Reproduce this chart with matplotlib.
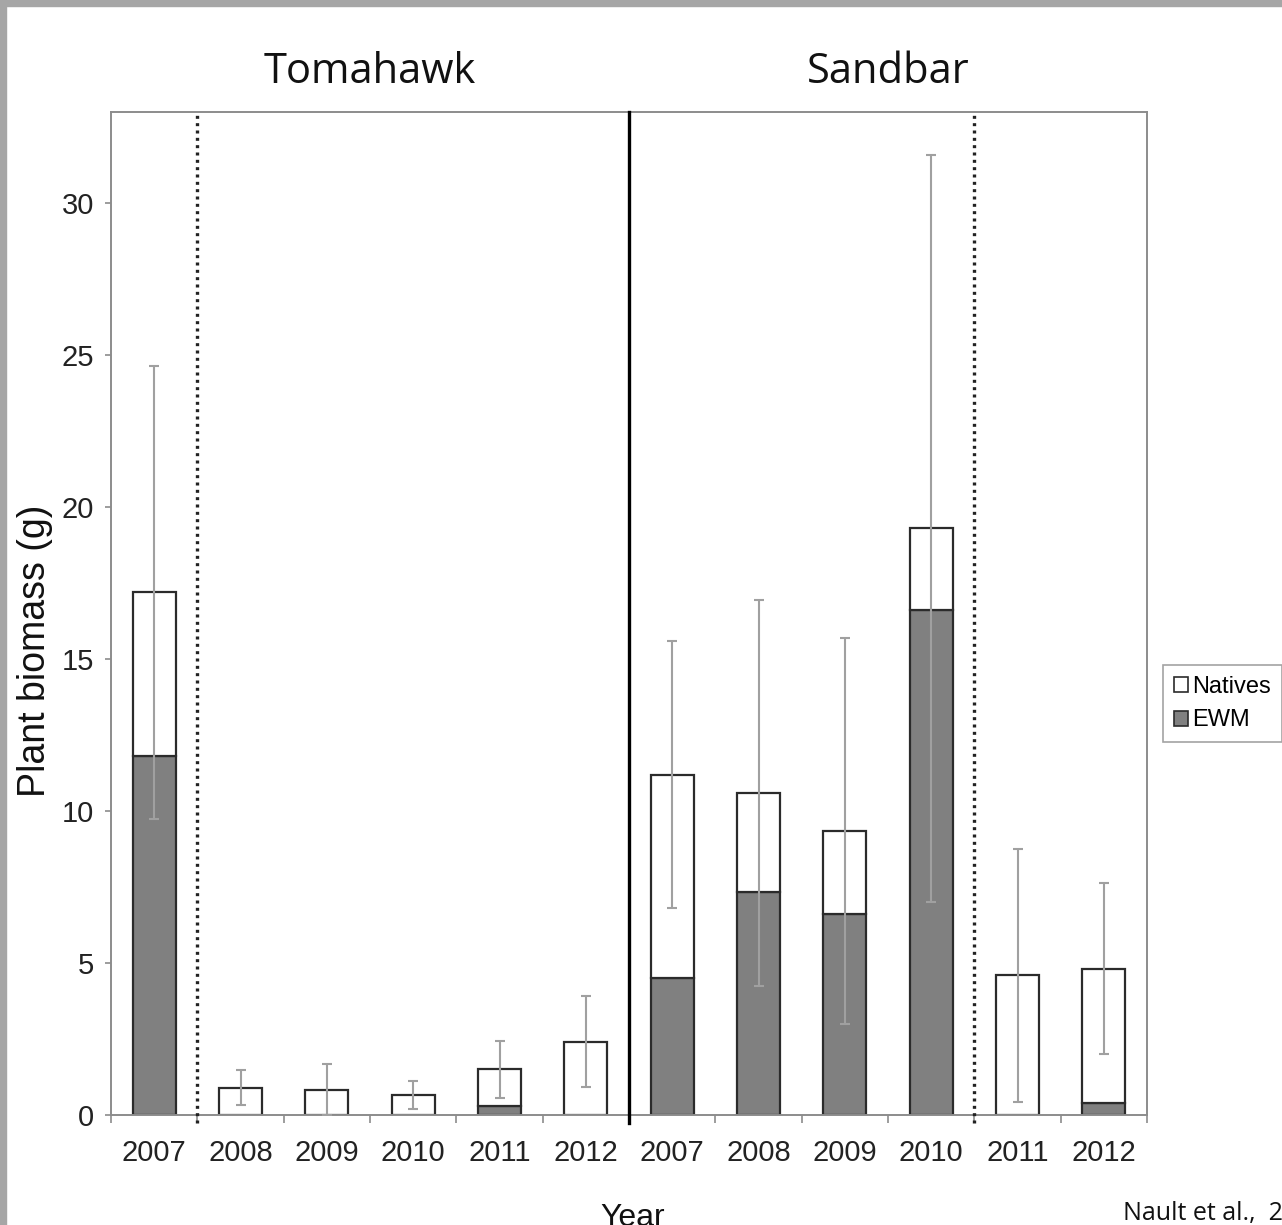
import numpy as np
import matplotlib
matplotlib.use("Agg")
import matplotlib.pyplot as plt
from matplotlib import font_manager
from matplotlib.patches import Rectangle, Patch
from matplotlib.transforms import blended_transform_factory

# data (g of plant biomass per sample)
years = ["2007", "2008", "2009", "2010", "2011", "2012"]
lakes = ["Tomahawk", "Sandbar"]

ewm_tomahawk = [11.8, 0.0, 0.0, 0.0, 0.3, 0.0]
natives_tomahawk = [5.4, 0.9, 0.82, 0.66, 1.2, 2.41]
err_tomahawk = [7.45, 0.57, 0.86, 0.46, 0.94, 1.5]

ewm_sandbar = [4.5, 7.35, 6.6, 16.6, 0.0, 0.38]
natives_sandbar = [6.7, 3.25, 2.76, 2.7, 4.6, 4.44]
err_sandbar = [4.4, 6.35, 6.35, 12.3, 4.16, 2.8]

# vertical separators: solid between lakes, dotted where treatment changed
lake_split = 5.5
treatment_lines = [0.5, 9.5]

citation = "Nault et al.,  2014"

installed = {f.name for f in font_manager.fontManager.ttflist}
NARROW = "Liberation Sans Narrow" if "Liberation Sans Narrow" in installed else "Liberation Sans"
TITLE_FONT = "Open Sans"

W, H = 1282, 1225
fig = plt.figure(figsize=(W / 100, H / 100), dpi=100)
fig.patch.set_facecolor("white")

# gray frame at top and left of the screenshot
fig.patches.append(Rectangle((0, 1 - 6 / H), 1, 6 / H, transform=fig.transFigure,
                             color="#a6a6a6", zorder=0))
fig.patches.append(Rectangle((0, 0), 6 / W, 1, transform=fig.transFigure,
                             color="#a6a6a6", zorder=0))

ax = fig.add_axes([111 / W, (H - 1115) / H, (1147 - 111) / W, (1115 - 112) / H])

ewm = np.array(ewm_tomahawk + ewm_sandbar)
natives = np.array(natives_tomahawk + natives_sandbar)
err = np.array(err_tomahawk + err_sandbar)
total = ewm + natives
x = np.arange(len(ewm))

edge = "#2b2b2b"
ax.bar(x, ewm, width=0.5, color="#808080", edgecolor=edge, linewidth=1.6, zorder=2)
ax.bar(x, natives, bottom=ewm, width=0.5, color="white", edgecolor=edge, linewidth=1.6, zorder=2)

lower = np.minimum(err, total)
ax.errorbar(x, total, yerr=[lower, err], fmt="none", ecolor="#a0a0a0",
            elinewidth=1.5, capsize=3.5, capthick=1.5, zorder=3)

ax.axvline(lake_split, ymin=-0.008, color="black", linewidth=2.4, clip_on=False, zorder=4)
for xv in treatment_lines:
    ax.axvline(xv, ymin=-0.008, color="#222222", linewidth=2.4, linestyle=(0, (0.9, 1.3)),
               clip_on=False, zorder=4)

ax.set_xlim(-0.5, len(x) - 0.5)
ax.set_ylim(0, 33)

for s in ax.spines.values():
    s.set_color("#8c8c8c")
    s.set_linewidth(1.4)

ax.set_yticks(np.arange(0, 31, 5))
ax.tick_params(axis="y", direction="out", length=4, width=1.2, color="#8c8c8c",
               pad=8, labelsize=21, labelcolor="#222222")
for lab in ax.get_yticklabels():
    lab.set_family(NARROW)

ax.set_xticks(np.arange(-0.5, len(x), 1.0))
ax.set_xticklabels([])
ax.tick_params(axis="x", which="major", direction="out", length=6, width=1.2, color="#8c8c8c")
ax.set_xticks(x, minor=True)
ax.set_xticklabels(years + years, minor=True, family=NARROW, fontsize=21, color="#222222")
ax.tick_params(axis="x", which="minor", length=0, pad=17)

# lake names above each half
trans = blended_transform_factory(ax.transData, ax.transAxes)
ax.text(2.5, 1.04, lakes[0], transform=trans, ha="center", va="center",
        family=TITLE_FONT, fontsize=30, color="#111111")
ax.text(8.5, 1.04, lakes[1], transform=trans, ha="center", va="center",
        family=TITLE_FONT, fontsize=30, color="#111111")

fig.text(35 / W, 1 - 651 / H, "Plant biomass (g)", rotation=90, ha="center", va="center",
         family="Liberation Sans", fontsize=27, color="#111111")
fig.text(633 / W, 1 - 1203 / H, "Year", ha="center", va="top",
         family="Liberation Sans", fontsize=23, color="#111111")
fig.text(1123 / W, 5 / H, citation, ha="left", va="baseline",
         family=TITLE_FONT, fontsize=18, color="#111111")

handles = [Patch(facecolor="white", edgecolor=edge, linewidth=1.2, label="Natives"),
           Patch(facecolor="#808080", edgecolor=edge, linewidth=1.2, label="EWM")]
leg = fig.legend(handles=handles, loc="upper left", bbox_to_anchor=(1163 / W, 1 - 665 / H),
                 frameon=True, fancybox=False, handlelength=0.6, handleheight=0.6,
                 handletextpad=0.2, borderpad=0.45, borderaxespad=0, labelspacing=0.5,
                 prop={"family": NARROW, "size": 17})
leg.get_frame().set_edgecolor("#8c8c8c")
leg.get_frame().set_linewidth(1.2)

fig.savefig("out.png", dpi=100)
